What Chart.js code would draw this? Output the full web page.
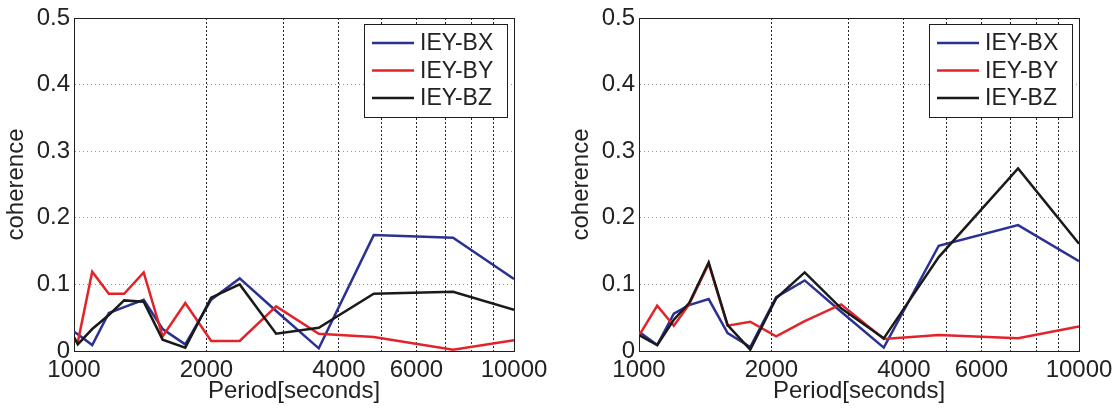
<!DOCTYPE html>
<html>
<head>
<meta charset="utf-8">
<title>IEY coherence</title>
<script src="https://cdn.jsdelivr.net/npm/chart.js@4/dist/chart.umd.min.js"></script>
<style>
  html, body { margin: 0; padding: 0; background: #fff; overflow: hidden; }
  .panel { position: absolute; top: 0; width: 552px; height: 409px; }
  #panelA { left: 0; }
  #panelB { left: 565px; }
</style>
</head>
<body>
<div class="panel" id="panelA"><canvas id="chartA" width="552" height="409"></canvas></div>
<div class="panel" id="panelB"><canvas id="chartB" width="552" height="409"></canvas></div>
<script>
// ---- data ----
const seriesLabels = ['IEY-BX', 'IEY-BY', 'IEY-BZ'];
const seriesColors = ['#2b3192', '#e2232a', '#1a1a1a'];

const xGridValues = [1000, 2000, 3000, 4000, 5000, 6000, 7000, 8000, 9000, 10000];
const xTickLabels = [1000, 2000, 4000, 6000, 10000];
const yTickValues = [0, 0.1, 0.2, 0.3, 0.4, 0.5];
const yTickLabels = ['0', '0.1', '0.2', '0.3', '0.4', '0.5'];

// left panel
const periodsA = [1000, 1020, 1100, 1200, 1300, 1440, 1590, 1790, 2050, 2380, 2880, 3600, 4800, 7270, 10000];
const bxA = [0.029, 0.025, 0.009, 0.057, 0.066, 0.077, 0.033, 0.010, 0.077, 0.109, 0.060, 0.004, 0.174, 0.170, 0.108];
const byA = [0.018, 0.013, 0.119, 0.086, 0.086, 0.118, 0.022, 0.072, 0.015, 0.015, 0.067, 0.026, 0.021, 0.002, 0.016];
const bzA = [0.021, 0.010, 0.033, 0.054, 0.076, 0.074, 0.017, 0.005, 0.080, 0.100, 0.026, 0.035, 0.086, 0.089, 0.062];

// right panel
const periodsB = [1000, 1100, 1200, 1300, 1440, 1590, 1790, 2050, 2380, 2880, 3600, 4800, 7270, 10000];
const bxB = [0.029, 0.009, 0.056, 0.069, 0.078, 0.027, 0.006, 0.081, 0.106, 0.059, 0.005, 0.158, 0.189, 0.135];
const byB = [0.023, 0.068, 0.038, 0.070, 0.131, 0.038, 0.044, 0.022, 0.045, 0.070, 0.018, 0.024, 0.019, 0.037];
const bzB = [0.024, 0.009, 0.047, 0.072, 0.133, 0.039, 0.002, 0.079, 0.118, 0.064, 0.019, 0.141, 0.274, 0.161];

// ---- look ----
const fontFamily = '"Liberation Sans", Arial, Helvetica, sans-serif';
const textColor = '#222';
const frameColor = '#1e1e1e';
const plotPad = { left: 74, top: 18, right: 38, bottom: 58 };

function makeDatasets(periods, bx, by, bz) {
    return [bx, by, bz].map((vals, i) => ({
        label: seriesLabels[i],
        data: periods.map((p, j) => ({ x: p, y: vals[j] })),
        borderColor: seriesColors[i],
        backgroundColor: seriesColors[i],
        borderWidth: 2.5,
        pointRadius: 0,
        tension: 0,
        order: 2 - i,   // BZ on top, BX underneath
    }));
}

// boxed legend sitting inside the top-right of the plot area
const boxLegend = {
    id: 'boxLegend',
    afterDatasetsDraw(chart) {
        const { ctx, chartArea } = chart;
        const w = 143, h = 93;
        const x = Math.round(chartArea.right - 7 - w);
        const y = Math.round(chartArea.top + 6);
        ctx.save();
        ctx.fillStyle = '#fff';
        ctx.fillRect(x, y, w, h);
        ctx.strokeStyle = frameColor;
        ctx.lineWidth = 1;
        ctx.strokeRect(x + 0.5, y + 0.5, w, h);
        ctx.font = `23px ${fontFamily}`;
        ctx.textBaseline = 'middle';
        ctx.textAlign = 'left';
        chart.data.datasets.forEach((ds, i) => {
            const rowY = y + 19 + i * 27.5;
            ctx.strokeStyle = ds.borderColor;
            ctx.lineWidth = 2.5;
            ctx.beginPath();
            ctx.moveTo(x + 8, rowY);
            ctx.lineTo(x + 50, rowY);
            ctx.stroke();
            ctx.fillStyle = textColor;
            ctx.fillText(ds.label, x + 56, rowY + 1);
        });
        ctx.restore();
    }
};

function makeChart(canvasId, periods, bx, by, bz) {
    const font = { size: 24, family: fontFamily, lineHeight: 1.2 };
    return new Chart(document.getElementById(canvasId), {
        type: 'line',
        data: { datasets: makeDatasets(periods, bx, by, bz) },
        plugins: [boxLegend],
        options: {
            responsive: false,
            animation: false,
            layout: { padding: { left: 0, top: plotPad.top, right: plotPad.right, bottom: 0 } },
            plugins: { legend: { display: false }, tooltip: { enabled: false } },
            scales: {
                x: {
                    type: 'logarithmic',
                    min: 1000,
                    max: 10000,
                    afterBuildTicks: s => { s.ticks = xGridValues.map(v => ({ value: v })); },
                    afterFit: s => { s.height = plotPad.bottom; s.paddingLeft = 0; s.paddingRight = 0; },
                    ticks: {
                        autoSkip: false,
                        maxRotation: 0,
                        minRotation: 0,
                        padding: 5,
                        color: textColor,
                        font,
                        callback: v => xTickLabels.includes(v) ? String(v) : '',
                    },
                    grid: {
                        drawTicks: false,
                        lineWidth: 1,
                        color: c => (c.tick && (c.tick.value === 1000 || c.tick.value === 10000)) ? 'rgba(0,0,0,0)' : '#262626',
                    },
                    border: { display: true, color: frameColor, width: 1, dash: [2, 2] },
                    title: {
                        display: true,
                        text: 'Period[seconds]',
                        color: textColor,
                        font,
                        padding: { top: 0, bottom: 3 },
                    },
                },
                y: {
                    min: 0,
                    max: 0.5,
                    afterBuildTicks: s => { s.ticks = yTickValues.map(v => ({ value: v })); },
                    afterFit: s => { s.width = plotPad.left; s.paddingTop = 0; s.paddingBottom = 0; },
                    ticks: {
                        padding: 4,
                        color: textColor,
                        font,
                        callback: (v, i) => yTickLabels[i],
                    },
                    grid: {
                        drawTicks: false,
                        lineWidth: 1,
                        color: c => (c.tick && (c.tick.value === 0 || c.tick.value === 0.5)) ? 'rgba(0,0,0,0)' : '#9a9a9a',
                    },
                    border: { display: true, color: frameColor, width: 1, dash: [1, 3] },
                    title: {
                        display: true,
                        text: 'coherence',
                        color: textColor,
                        font,
                        padding: { top: 2, bottom: 0 },
                    },
                },
                // top and right edges of the box
                xTop: {
                    type: 'linear',
                    axis: 'x',
                    position: 'top',
                    min: 0,
                    max: 1,
                    ticks: { display: false },
                    grid: { display: false, drawTicks: false },
                    border: { display: true, color: frameColor, width: 1 },
                    afterFit: s => { s.height = 0; s.paddingLeft = 0; s.paddingRight = 0; },
                },
                yRight: {
                    type: 'linear',
                    axis: 'y',
                    position: 'right',
                    min: 0,
                    max: 1,
                    ticks: { display: false },
                    grid: { display: false, drawTicks: false },
                    border: { display: true, color: frameColor, width: 1 },
                    afterFit: s => { s.width = 0; s.paddingTop = 0; s.paddingBottom = 0; },
                },
            },
        },
    });
}

makeChart('chartA', periodsA, bxA, byA, bzA);
makeChart('chartB', periodsB, bxB, byB, bzB);
</script>
</body>
</html>
